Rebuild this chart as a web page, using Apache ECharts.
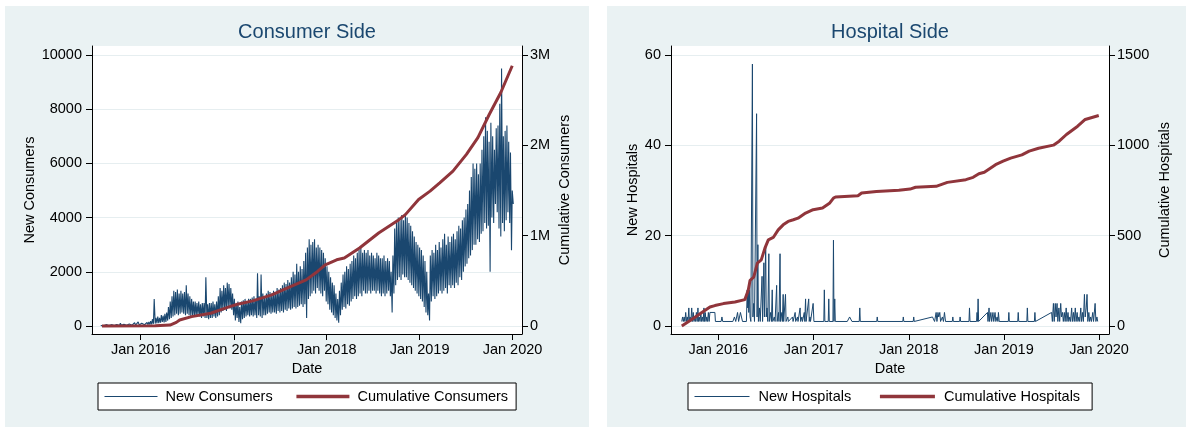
<!DOCTYPE html>
<html><head><meta charset="utf-8">
<script src="https://cdn.jsdelivr.net/npm/echarts@6/dist/echarts.min.js"></script>
<style>
html,body{margin:0;padding:0;background:#fff;}
#bg1{position:absolute;left:5px;top:6px;width:584px;height:421px;background:#eaf2f3;}
#bg2{position:absolute;left:607px;top:6px;width:579px;height:421px;background:#eaf2f3;}
#c{position:absolute;left:0;top:0;width:1186px;height:427px;}
</style></head><body>
<div id="bg1"></div><div id="bg2"></div><div id="c"></div>
<script>
// ---------- DATA ----------
const consWeekStart = '2015-07-27';
// weekly weekday highs and weekend lows of new consumers
const consHigh = [
 20,30,40,50,60,40,50,60,80,50,60,100,70,60,80,90,70,80,100,120,90,150,80,
 100,120,110,130, 150,180,250,1000,300, 350,300,400,380, 450,500,700,900,
 1100,1300,1250,1350,1200, 1300,1200,1250,1500, 1200,1100,1000,900,
 900,850,900,800,850, 850,1800,800,850, 850,900,800,900,1100,
 1400,1300,1500,1400, 1600,1550,1400,1200,
 1000,800,900,700,900, 950,1000,900,1000, 1000,1050,1100,1000, 1950,1100,1900,1200,
 1100,1200,1300,1250,1200, 1300,1250,1400,1350, 1400,1500,1600,1550,1700,
 1600,1800,2000,1900, 2300,2000,2200,2100, 2400,2700,2900,3200,3000,
 3100,3200,2900,3000, 2900,2800,2700,2500,
 2200,2000,1800,1600,1500, 1200,1000,1300,1600, 1900,2000,2200,2100,
 2300,2400,2600,2500,2700, 2800,2900,2700,2800, 2700,2800,2600,2700,
 2600,2500,2700,2600,2500, 2500,2600,2400,2500, 2400,2000,2600,3600,
 3800,4000,3900,4100,3900, 4100,4000,3800,3700, 3500,3300,3100,3000,2900,
 2800,2600,2400,2000, 1200,2600,2800,2700, 3000,2800,3100,2900,
 3200,3400,3000,3300,3100, 3300,3400,3200,3500, 3700,3600,3900,4000,
 4300,4500,5000,5500,6000, 5800,6000,5600,6000, 6500,7000,7700,7200,6800,
 7500,7000,6500,7300, 7400,8200,9500,7000, 7200,7400,6800,6400,5000
];
const consLow = [
 0,5,10,10,15,10,15,20,20,15,20,25,20,20,25,30,25,30,30,35,30,40,30,
 40,45,50,50, 50,60,80,90,100, 100,120,150,130, 150,200,250,300,
 350,400,450,400,450, 500,450,400,450, 400,350,400,350,
 350,400,350,300,350, 300,300,250,300, 300,350,300,350,400,
 500,550,600,550, 700,650,600,400,
 200,300,150,100,250, 300,350,400,350, 400,350,400,300, 400,350,300,400,
 400,450,500,450,500, 500,450,550,500, 550,500,600,550,650,
 600,650,700,650, 700,750,800,700, 800,300,1000,1100,1200,
 1300,1200,1400,1300, 1200,1100,1300,900,
 800,600,500,400,300, 200,120,400,600, 700,650,800,750,
 900,1000,1100,1000,1100, 1200,1100,1300,1200, 1200,1300,1200,1300,
 1300,1200,1300,1200,1100, 1200,1100,1200,1300, 1100,500,1200,1500,
 1700,1800,1700,1900,1800, 1800,1700,1600,1500, 1400,1300,1200,1100,1000,
 900,700,500,400, 200,900,1100,1000, 1100,1200,1300,1200,
 1300,1400,1200,1500,1400, 1500,1400,1600,1500, 1800,1700,2000,2200,
 2300,2500,2600,2800,3000, 3000,3200,3100,3400, 3500,3800,3600,3700,2000,
 4000,3800,4500,4200, 3600,3300,3800,3500, 3900,4200,3800,2800,4500
];
const cumConsDates = ['2015-08-02','2016-02-27','2016-04-25','2016-05-20','2016-06-02','2016-07-19','2016-10-02','2016-12-16',
 '2017-01-15','2017-03-16','2017-05-30','2017-07-29','2017-10-12','2017-11-26','2017-12-26','2018-02-09','2018-03-11',
 '2018-05-10','2018-07-24','2018-10-07','2018-11-06','2018-12-28','2019-02-11','2019-03-21','2019-05-12','2019-07-04',
 '2019-08-18','2019-10-02','2019-11-16','2019-12-31'];
const cumConsValues = [0,2000,10000,40000,66000,104000,141000,215000,
 241000,278000,344000,419000,511000,604000,678000,733000,752000,
 863000,1030000,1167000,1233000,1400000,1493000,1585000,1715000,1900000,
 2085000,2344000,2585000,2881000];

const hospEvents = [
 ['2015-08-14',1],['2015-08-17',2],['2015-08-20',1],['2015-08-23',2],['2015-08-26',1],['2015-08-29',3],['2015-09-01',1],
 ['2015-09-04',2],['2015-09-07',1],['2015-09-10',4],['2015-09-12',1],['2015-09-15',2],['2015-09-18',1],['2015-09-21',4],
 ['2015-09-24',1],['2015-09-27',3],['2015-09-30',1],['2015-10-03',2],['2015-10-06',1],['2015-10-09',3],['2015-10-12',1],
 ['2015-10-15',4],['2015-10-17',1],['2015-10-20',2],['2015-10-23',1],['2015-10-26',3],['2015-10-29',1],['2015-11-01',2],
 ['2015-11-04',1],['2015-11-07',4],['2015-11-09',1],['2015-11-12',3],['2015-11-15',1],['2015-11-18',2],['2015-11-21',1],
 ['2015-11-24',3],['2015-11-27',1],['2015-11-30',3],['2015-12-19',3],['2015-12-21',1],
 ['2016-01-12',1],['2016-01-15',2],['2016-01-18',1],['2016-02-26',1],['2016-03-03',2],['2016-03-08',1],['2016-03-15',3],
 ['2016-03-19',1],['2016-03-26',3],['2016-03-30',3],['2016-04-03',1],['2016-04-18',1],['2016-04-21',8],['2016-04-23',4],
 ['2016-04-25',8],['2016-04-27',3],['2016-04-29',8],['2016-05-02',2],['2016-05-05',1],['2016-05-09',1],['2016-05-11',58],
 ['2016-05-13',2],['2016-05-16',5],['2016-05-19',1],['2016-05-25',1],['2016-05-27',47],['2016-05-29',2],['2016-06-01',18],
 ['2016-06-03',1],['2016-06-07',4],['2016-06-10',1],['2016-06-15',1],['2016-06-17',11],['2016-06-19',1],['2016-06-24',14],
 ['2016-06-26',2],['2016-07-01',18],['2016-07-03',2],['2016-07-06',4],['2016-07-09',1],['2016-07-13',16],['2016-07-15',1],
 ['2016-07-20',3],['2016-07-23',1],['2016-07-26',8],['2016-07-28',1],['2016-08-03',2],['2016-08-06',1],['2016-08-12',9],
 ['2016-08-14',1],['2016-08-19',3],['2016-08-21',1],['2016-08-25',16],['2016-08-27',1],['2016-09-01',3],['2016-09-03',1],
 ['2016-09-06',7],['2016-09-08',1],['2016-09-15',7],['2016-09-17',1],['2016-09-24',2],['2016-09-26',1],['2016-10-03',1],
 ['2016-10-12',2],['2016-10-14',1],['2016-10-22',3],['2016-10-24',1],['2016-10-31',2],['2016-11-02',1],['2016-11-10',4],
 ['2016-11-12',1],['2016-11-17',2],['2016-11-19',1],['2016-11-26',3],['2016-11-28',1],['2016-12-01',6],['2016-12-03',1],
 ['2016-12-13',6],['2016-12-15',1],['2016-12-18',2],['2016-12-20',1],['2016-12-30',5],['2017-01-02',1],
 ['2017-02-09',1],['2017-02-11',8],['2017-02-13',1],['2017-02-26',1],['2017-02-28',6],['2017-03-02',1],['2017-03-16',1],
 ['2017-03-18',19],['2017-03-20',1],['2017-03-23',6],['2017-03-25',1],['2017-05-10',1],['2017-05-19',2],['2017-05-28',1],
 ['2017-06-25',1],['2017-06-27',4],['2017-06-29',1],['2017-08-31',1],['2017-09-02',2],['2017-09-04',1],['2017-12-09',1],
 ['2017-12-11',2],['2017-12-13',1],['2018-01-18',1],['2018-01-20',2],['2018-01-22',1],['2018-04-02',2],['2018-04-10',1],
 ['2018-04-16',3],['2018-04-19',1],['2018-04-23',3],['2018-04-26',2],['2018-04-30',3],['2018-05-03',1],['2018-05-10',2],
 ['2018-05-14',1],['2018-05-18',3],['2018-05-22',1],['2018-06-17',1],['2018-06-19',2],['2018-06-21',1],['2018-07-15',1],
 ['2018-07-17',2],['2018-07-19',1],['2018-08-20',1],['2018-08-22',4],['2018-08-24',1],['2018-09-18',1],['2018-09-20',3],
 ['2018-09-22',1],['2018-09-24',6],['2018-09-26',1],['2018-10-30',3],['2018-11-01',1],['2018-11-05',4],['2018-11-07',1],
 ['2018-11-12',3],['2018-11-15',1],['2018-11-20',3],['2018-11-23',1],['2018-11-28',3],['2018-12-01',1],['2018-12-06',2],
 ['2018-12-09',1],['2018-12-11',3],['2018-12-14',1],['2019-01-18',1],['2019-01-20',3],['2019-01-22',1],['2019-02-23',1],
 ['2019-02-25',3],['2019-02-27',1],['2019-03-30',1],['2019-04-01',4],['2019-04-03',1],['2019-04-28',1],['2019-04-30',3],
 ['2019-05-02',1],['2019-07-03',3],['2019-07-06',1],['2019-07-10',5],['2019-07-13',1],['2019-07-17',5],['2019-07-20',2],
 ['2019-07-24',5],['2019-07-27',1],['2019-07-31',4],['2019-08-03',1],['2019-08-07',5],['2019-08-10',2],['2019-08-14',3],
 ['2019-08-17',1],['2019-08-21',3],['2019-08-24',1],['2019-08-28',4],['2019-08-31',1],['2019-09-04',3],['2019-09-07',1],
 ['2019-09-11',2],['2019-09-14',1],['2019-09-18',4],['2019-09-21',1],['2019-09-25',3],['2019-09-28',1],['2019-10-02',4],
 ['2019-10-05',1],['2019-10-09',3],['2019-10-12',1],['2019-10-16',2],['2019-10-19',1],['2019-10-23',4],['2019-10-26',1],
 ['2019-10-30',3],['2019-11-02',1],['2019-11-06',7],['2019-11-09',2],['2019-11-13',4],['2019-11-16',7],['2019-11-19',1],
 ['2019-11-23',3],['2019-11-26',1],['2019-11-30',2],['2019-12-03',1],['2019-12-08',3],['2019-12-11',1],['2019-12-17',5],
 ['2019-12-20',1],['2019-12-24',2],['2019-12-27',1]
];
const cumHospDates = ['2015-08-14','2015-09-15','2015-10-23','2015-11-30','2015-12-19','2016-01-21','2016-03-05','2016-04-12',
 '2016-04-25','2016-05-02','2016-05-16','2016-05-30','2016-06-14','2016-06-28','2016-07-11','2016-07-30','2016-08-18',
 '2016-09-06','2016-09-25','2016-10-15','2016-11-02','2016-12-01','2016-12-30','2017-02-04','2017-03-04','2017-03-18',
 '2017-03-26','2017-06-20','2017-07-04','2017-08-30','2017-11-24','2018-01-06','2018-01-27','2018-04-16','2018-05-29',
 '2018-08-08','2018-09-05','2018-09-27','2018-10-18','2018-11-30','2018-12-29','2019-01-27','2019-03-11','2019-04-08',
 '2019-05-14','2019-07-10','2019-08-01','2019-08-29','2019-10-11','2019-11-09','2019-12-31'];
const cumHospValues = [0,30,68,105,113,124,133,146,
 198,253,270,348,366,431,477,490,532,
 560,579,588,597,625,644,653,681,708,
 714,721,736,745,751,758,768,773,795,
 810,823,843,851,893,912,929,947,968,
 984,1001,1023,1060,1106,1143,1165];

const xTickDates = ['2016-01-01','2017-01-01','2018-01-01','2019-01-01','2020-01-01'];
const xTickLabels = ['Jan 2016','Jan 2017','Jan 2018','Jan 2019','Jan 2020'];
const consTicks = [0,2000,4000,6000,8000,10000];
const cumConsTicks = [0,1000000,2000000,3000000];
const cumConsTickLabels = ['0','1M','2M','3M'];
const hospTicks = [0,20,40,60];
const cumHospTicks = [0,500,1000,1500];

// ---------- BUILD ----------
const DAY = 86400000;
function d(s){const p=s.split('-').map(Number);return Date.UTC(p[0],p[1]-1,p[2]);}
const ws = d(consWeekStart);
const newCons = [];
for (let i=0;i<Math.min(consHigh.length,consLow.length);i++){
  newCons.push([ws+i*7*DAY+1*DAY, consHigh[i]]);
  newCons.push([ws+i*7*DAY+5*DAY, consLow[i]]);
}
const cumCons = cumConsDates.map((s,i)=>[d(s),cumConsValues[i]]);
const newHosp = hospEvents.map(e=>[d(e[0]),e[1]]);
const cumHosp = cumHospDates.map((s,i)=>[d(s),cumHospValues[i]]);
const xTicks = xTickDates.map(d);

const FONT = 'Liberation Sans, Arial, Helvetica, sans-serif';
const NAVY = '#1a476f', MAROON = '#90353b';
const txt = {color:'#000', fontSize:14.5, fontFamily:FONT};

function xAxisCfg(gi, minD, maxD){
  return {type:'value', gridIndex:gi, min:xTicks[0]+minD*DAY, max:xTicks[4]+maxD*DAY,
    name:'Date', nameLocation:'middle', nameGap:27, nameTextStyle:txt,
    axisLine:{show:true, onZero:false, lineStyle:{color:'#000', width:1}},
    axisTick:{show:true, length:6, customValues:xTicks, lineStyle:{color:'#000'}},
    axisLabel:{customValues:xTicks, margin:8, ...txt, formatter:v=>xTickLabels[xTicks.indexOf(v)]||''},
    splitLine:{show:false}};
}
function yAxisCfg(gi, pos, ticks, top, name, gap, labels, grid){
  const span = top;
  return {type:'value', gridIndex:gi, position:pos, min:-span*8/271, max:span+span*9/271,
    name:name, nameLocation:'middle', nameRotate:90, nameGap:gap, nameTextStyle:txt,
    axisLine:{show:true, onZero:false, lineStyle:{color:'#000', width:1}},
    axisTick:{show:true, length:6, customValues:ticks, lineStyle:{color:'#000'}},
    axisLabel:{customValues:ticks, margin: pos==='left'?10:8, ...txt,
      formatter: labels ? (v=>labels[ticks.indexOf(v)]) : (v=>String(v))},
    splitLine:{show:grid, lineStyle:{color:'#e6eef0', width:1}}};
}
const legendBase = {itemHeight:14, padding:[6,8,6,6], backgroundColor:'#fff', borderColor:'#000', borderWidth:1,
  borderRadius:0, selectedMode:false, itemStyle:{opacity:0, borderWidth:0}};

const chart = echarts.init(document.getElementById('c'), null, {renderer:'canvas'});
chart.setOption({
  animation:false,
  backgroundColor:'transparent',
  textStyle:{fontFamily:FONT},
  graphic:[
    {type:'text', x:307, y:32, style:{text:'Consumer Side', fontSize:20, fontFamily:FONT, fill:NAVY, align:'center', verticalAlign:'middle'}},
    {type:'text', x:890, y:32, style:{text:'Hospital Side', fontSize:20, fontFamily:FONT, fill:NAVY, align:'center', verticalAlign:'middle'}}
  ],
  grid:[
    {left:92, top:46, width:430, height:288, show:true, backgroundColor:'#fff', borderWidth:0},
    {left:671, top:46, width:438, height:288, show:true, backgroundColor:'#fff', borderWidth:0}
  ],
  xAxis:[xAxisCfg(0,-191.4,37.3), xAxisCfg(1,-181.4,38.3)],
  yAxis:[
    yAxisCfg(0,'left',consTicks,10000,'New Consumers',52,null,true),
    yAxisCfg(0,'right',cumConsTicks,3000000,'Cumulative Consumers',35,cumConsTickLabels,false),
    yAxisCfg(1,'left',hospTicks,60,'New Hospitals',25,null,true),
    yAxisCfg(1,'right',cumHospTicks,1500,'Cumulative Hospitals',48,null,false)
  ],
  legend:[
    Object.assign({}, legendBase, {data:[
       {name:'New Consumers', lineStyle:{width:1, color:NAVY}},
       {name:'Cumulative Consumers', lineStyle:{width:3.5, color:MAROON}}],
     left:98, top:383, itemWidth:53, itemGap:22,
     textStyle:{...txt, lineHeight:15, padding:[0,0,0,3]}}),
    Object.assign({}, legendBase, {data:[
       {name:'New Hospitals', lineStyle:{width:1, color:NAVY}},
       {name:'Cumulative Hospitals', lineStyle:{width:3.5, color:MAROON}}],
     left:688, top:383, itemWidth:55, itemGap:27,
     padding:[6,12,6,6], textStyle:{...txt, lineHeight:15, padding:[0,0,0,4]}})
  ],
  series:[
    {name:'New Consumers', type:'line', xAxisIndex:0, yAxisIndex:0, data:newCons, symbol:'none', showSymbol:false,
     lineStyle:{color:NAVY, width:1.1}, itemStyle:{color:NAVY}, silent:true},
    {name:'Cumulative Consumers', type:'line', xAxisIndex:0, yAxisIndex:1, data:cumCons, symbol:'none', showSymbol:false,
     lineStyle:{color:MAROON, width:3}, itemStyle:{color:MAROON}, silent:true},
    {name:'New Hospitals', type:'line', xAxisIndex:1, yAxisIndex:2, data:newHosp, symbol:'none', showSymbol:false,
     lineStyle:{color:NAVY, width:1}, itemStyle:{color:NAVY}, silent:true},
    {name:'Cumulative Hospitals', type:'line', xAxisIndex:1, yAxisIndex:3, data:cumHosp, symbol:'none', showSymbol:false,
     lineStyle:{color:MAROON, width:3}, itemStyle:{color:MAROON}, silent:true}
  ]
});
</script></body></html>
